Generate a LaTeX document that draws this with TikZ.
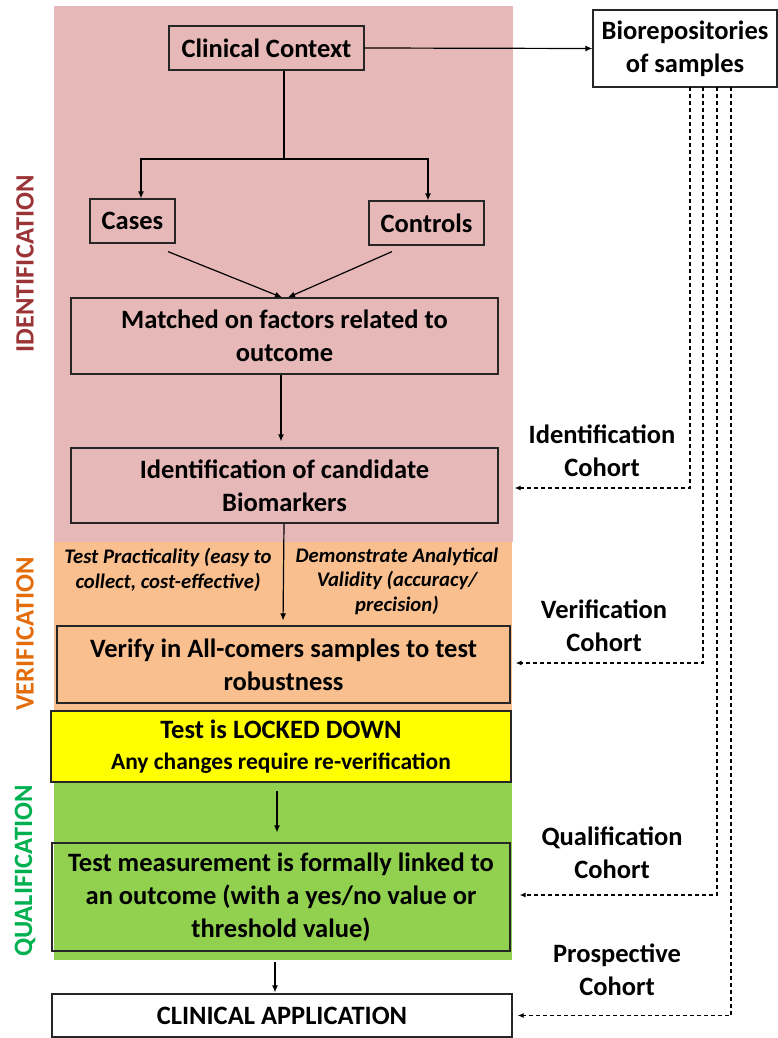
\documentclass[tikz,border=0pt]{standalone}
\usepackage{fontspec}
\setmainfont{Carlito}
\usetikzlibrary{arrows.meta}
\definecolor{idpink}{HTML}{E6B8B7}
\definecolor{verorange}{HTML}{F9BF8F}
\definecolor{qualgreen}{HTML}{92D050}
\definecolor{lockyellow}{HTML}{FFFF00}
\definecolor{idred}{HTML}{9B3437}
\definecolor{verlab}{HTML}{E46C0A}
\definecolor{quallab}{HTML}{00B050}
\newcommand\mainsz{\fontsize{26.5pt}{33pt}\selectfont}
\newcommand\subsz{\fontsize{23.5pt}{29pt}\selectfont}
\newcommand\itsz{\fontsize{20.7pt}{24.5pt}\selectfont}
\begin{document}
\begin{tikzpicture}[x=1pt,y=-1pt,
  box/.style={draw=black!85, line width=1.2pt, inner sep=0pt, align=center, font=\bfseries\mainsz},
  lab/.style={inner sep=0pt, align=center, font=\bfseries\mainsz},
  itlab/.style={inner sep=0pt, align=center, font=\bfseries\itshape\itsz},
  side/.style={inner sep=0pt, rotate=90, font=\bfseries\mainsz},
  arr/.style={-{Latex[length=7pt,width=6pt]}, line width=1.2pt},
  darr/.style={-{Latex[length=6pt,width=5pt]}, line width=1.2pt, dash pattern=on 4pt off 3pt}]
\useasboundingbox (0,0) rectangle (778,1038);
% phase backgrounds
\fill[idpink] (54,6) rectangle (513,542);
\fill[verorange] (54,542) rectangle (512,711);
\fill[qualgreen] (54,782) rectangle (512,960);
% side labels
\node[side, text=idred] (sid) at (25,264) {IDENTIFICATION};
\node[side, text=verlab] (sver) at (25,634) {VERIFICATION};
\node[side, text=quallab] (squal) at (25,871) {QUALIFICATION};
% boxes
\node[box, minimum width=195pt, minimum height=44pt] (cc) at (266.5,48) {Clinical Context};
\node[box, fill=white, minimum width=184pt, minimum height=77pt] (bio) at (685,48.5) {Biorepositories\\of samples};
\node[box, minimum width=85pt, minimum height=44pt] (cases) at (132.5,221) {Cases};
\node[box, minimum width=115pt, minimum height=44pt] (ctrl) at (426.5,223) {Controls};
\node[box, minimum width=427pt, minimum height=76pt] (match) at (284.5,336) {Matched on factors related to\\outcome};
\node[box, minimum width=427pt, minimum height=75pt] (ident) at (284.5,485.5) {Identification of candidate\\Biomarkers};
\node[box, minimum width=453pt, minimum height=77pt] (verify) at (283.5,664.5) {Verify in All-comers samples to test\\robustness};
\node[box, fill=lockyellow, minimum width=460pt, minimum height=71pt] (locked) at (281,746.5) {Test is LOCKED DOWN\\[-2pt]{\subsz Any changes require re-verification}};
\node[box, minimum width=458pt, minimum height=108pt] (measure) at (281,897) {Test measurement is formally linked to\\an outcome (with a yes/no value or\\threshold value)};
\node[box, fill=white, minimum width=460pt, minimum height=43pt] (clin) at (282,1015.5) {CLINICAL APPLICATION};
% italic notes
\node[itlab] (prac) at (168,570) {Test Practicality (easy to\\collect, cost-effective)};
\node[itlab] (valid) at (397,581) {Demonstrate Analytical\\Validity (accuracy/\\precision)};
% cohort labels
\node[lab] (cid) at (602,450.5) {Identification\\Cohort};
\node[lab] (cver) at (604,626) {Verification\\Cohort};
\node[lab] (cqual) at (612,853) {Qualification\\Cohort};
\node[lab] (cpro) at (617,969.5) {Prospective\\Cohort};
% main connectors
\coordinate (br) at (284,159);
\draw[arr] (cc.east) -- (bio.west);
\draw[line width=1.2pt] (cc.south -| br) -- (br);
\draw[arr] (br) -| ([xshift=8.5pt]cases.north);
\draw[arr] (br) -| ([xshift=1.5pt]ctrl.north);
\draw[arr] ([xshift=35.5pt,yshift=-8pt]cases.south) -- ([xshift=-2.5pt]match.north);
\draw[arr] ([xshift=-34.5pt,yshift=-6pt]ctrl.south) -- ([xshift=3.5pt]match.north);
\draw[arr, shorten >=6pt] ([xshift=-3.5pt]match.south) -- ([xshift=-3.5pt]ident.north);
\draw[arr, shorten >=5pt] ([xshift=-0.5pt]ident.south) -- ([xshift=-0.5pt]verify.north);
\draw[arr, shorten <=8pt, shorten >=10pt] ([xshift=-4pt]locked.south) -- ([xshift=-4pt]measure.north);
\draw[arr, shorten <=10pt, shorten >=1pt] ([xshift=-6pt]measure.south) -- ([xshift=-7pt]clin.north);
% dashed cohort connectors
\coordinate (d1) at (690,87);
\coordinate (d2) at (703,87);
\coordinate (d3) at (717,87);
\coordinate (d4) at (731,87);
\draw[darr, shorten >=16pt] (d1) |- ([yshift=-2.5pt]ident.east);
\draw[darr, shorten >=5pt] (d2) |- ([yshift=1.5pt]verify.east);
\draw[darr, shorten >=9pt] (d3) |- ([yshift=2pt]measure.east);
\draw[darr, shorten >=5pt] (d4) |- (clin.east);
\end{tikzpicture}
\end{document}
